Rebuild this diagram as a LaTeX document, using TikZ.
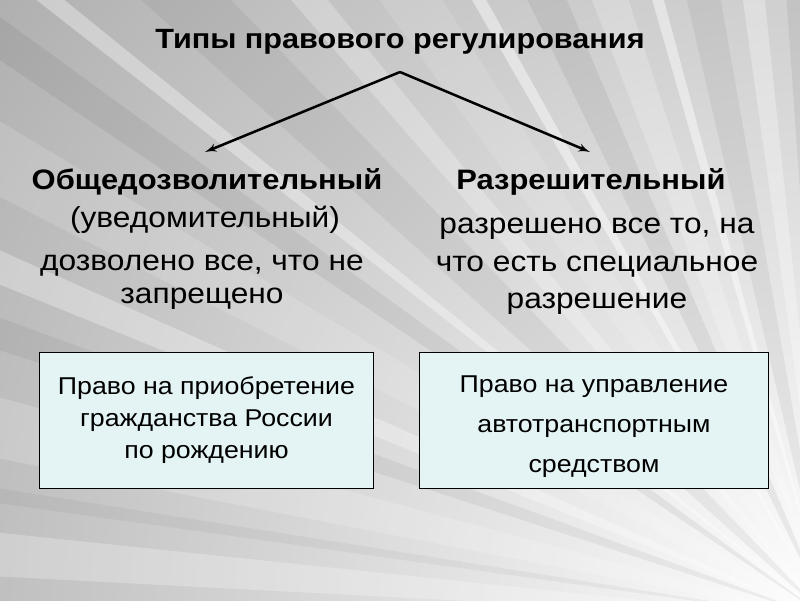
\documentclass[tikz,border=0pt]{standalone}
\usepackage{fontspec}
\setmainfont[FakeStretch=1.1]{Liberation Sans}
\usetikzlibrary{positioning}
\usetikzlibrary{arrows,shapes}
\definecolor{boxcyan}{HTML}{E4F4F4}
\definecolor{slidegray}{HTML}{ABABAB}

\begin{document}
\begin{tikzpicture}
    [x=0.025cm, y=-0.025cm,
    post/.style={->,
                 black,
                 >=latex',
                 line width=1.8pt},
    head/.style={font=\fontsize{20}{23}\selectfont\bfseries,
                 inner sep=0pt},
    txt/.style={align=center,
                inner sep=0pt},
    ex/.style={rectangle,
               draw=black,
               line width=0.7pt,
               fill=boxcyan,
               align=center,
               minimum height=3.4cm}]
    \useasboundingbox (0,0) rectangle (800,600);
    % background with rays
    \coordinate (vp) at (830,620);
    \begin{scope}
        \clip (0,0) rectangle (800,600);
        \fill[slidegray] (0,0) rectangle (800,600);
        \shade[inner color=white, outer color=slidegray] (vp) circle (1100);
        \foreach \a/\b/\c/\o in {183/186/white/.25, 188/189/black/.04,
                                 191/195/white/.18, 198/200/black/.05,
                                 202/204/white/.3, 207/211/white/.15,
                                 214/216/black/.06, 218/219/white/.35,
                                 222/226/black/.05, 229/231/white/.25,
                                 234/238/white/.12, 240/241/white/.45,
                                 244/247/black/.06, 249/252/white/.22,
                                 254/255/white/.45, 257/260/black/.05,
                                 262/264/white/.3, 266/268/black/.06}
            \fill[\c, opacity=\o] (vp) -- ([shift={(\a:2000)}]vp)
                -- ([shift={(\b:2000)}]vp) -- cycle;
    \end{scope}
    % title and the two types
    \node[head, font=\fontsize{19.8}{23}\selectfont\bfseries, anchor=base]
        (title) at (400,48) {Типы правового регулирования};
    \coordinate (fork) at (400,72);
    \coordinate (tipL) at (205,152);
    \coordinate (tipR) at (590,152);
    \draw[post] (fork) -- (tipL);
    \draw[post] (fork) -- (tipR);
    \node[head, anchor=base] (general) at (207,189) {Общедозволительный};
    \node[head, anchor=base] (permit) at (591,189) {Разрешительный};
    \node[txt, anchor=base, font=\fontsize{20.5}{23}\selectfont] (notice)
        at (205,227) {(уведомительный)};
    \node[txt, anchor=north, font=\fontsize{20.5}{23.5}\selectfont] (genrule)
        at (202,255) {дозволено все, что не\\запрещено};
    \node[txt, anchor=north, font=\fontsize{20.5}{26.5}\selectfont] (permrule)
        at (597,218) {разрешено все то, на\\что есть специальное\\разрешение};
    % examples
    \node[ex, minimum width=8.325cm, font=\fontsize{17.3}{22.8}\selectfont]
        (genex) at (206.5,420) {Право на приобретение\\гражданства России\\по рождению};
    \node[ex, minimum width=8.7cm, font=\fontsize{17.3}{28.5}\selectfont]
        (permex) at (594,420) {\rule{0pt}{21pt}Право на управление\\автотранспортным\\средством};
\end{tikzpicture}
\end{document}
